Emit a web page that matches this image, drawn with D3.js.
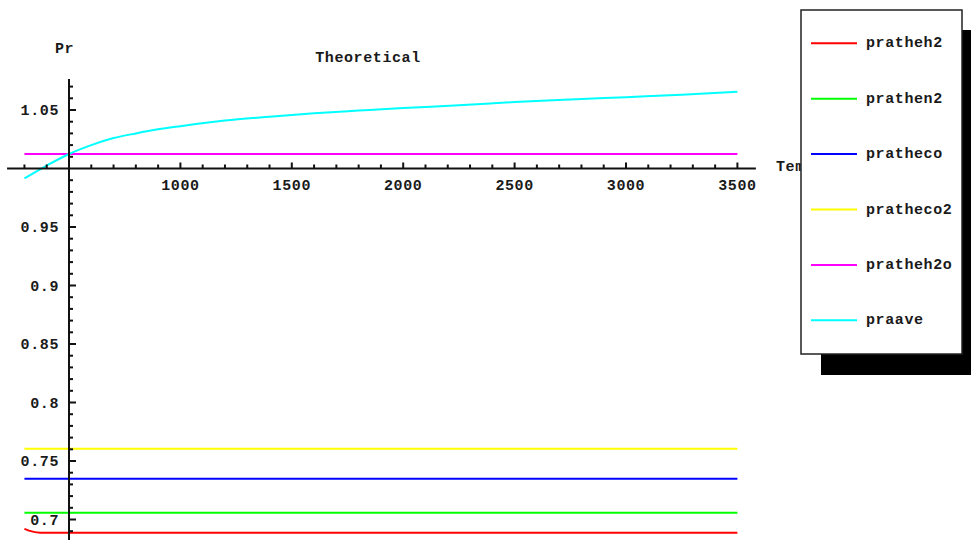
<!DOCTYPE html>
<html>
<head>
<meta charset="utf-8">
<script src="https://cdn.jsdelivr.net/npm/d3@7"></script>
<style>
  html, body { margin: 0; padding: 0; background: #fff; }
  svg { display: block; }
  text { font-family: "Liberation Mono", "DejaVu Sans Mono", monospace; font-weight: bold; fill: #1a1a1a; }
</style>
</head>
<body>
<svg id="chart" width="971" height="540"></svg>
<script>
// ---- data ----
const seriesNames = ["pratheh2", "prathen2", "pratheco", "pratheco2", "pratheh2o", "praave"];
const seriesColors = ["#ff0000", "#00ff00", "#0000ff", "#ffff00", "#ff00ff", "#00ffff"];

const pratheh2X = [300, 320, 370, 3500];
const pratheh2Y = [0.692, 0.6905, 0.6887, 0.6887];
const prathen2X = [300, 3500];
const prathen2Y = [0.7058, 0.7058];
const prathecoX = [300, 3500];
const prathecoY = [0.7349, 0.7349];
const pratheco2X = [300, 3500];
const pratheco2Y = [0.7605, 0.7605];
const pratheh2oX = [300, 3500];
const pratheh2oY = [1.0124, 1.0124];
const praaveX = [300, 400, 500, 600, 700, 800, 900, 1000, 1200, 1400, 1600, 1800, 2000, 2250, 2500, 2750, 3000, 3250, 3500];
const praaveY = [0.9915, 1.0025, 1.0124, 1.0200, 1.0260, 1.0300, 1.0335, 1.0362, 1.0410, 1.0443, 1.0472, 1.0495, 1.0517, 1.0540, 1.0568, 1.0590, 1.0610, 1.0630, 1.0655];

const xTickLabels = [1000, 1500, 2000, 2500, 3000, 3500];
const yTickLabels = [0.7, 0.75, 0.8, 0.85, 0.9, 0.95, 1.05];

const titleText = "Theoretical";
const yAxisLabel = "Pr";
const xAxisLabel = "Temperature";

// ---- layout ----
const svg = d3.select("#chart");
const origin = { x: 500, y: 1.0 };

const x = d3.scaleLinear().domain([0, 4000]).range([69 - 111.4, 69 + 7 * 111.4]);
const y = d3.scaleLinear().domain([0.65, 1.1]).range([168.5 + 0.35 * 1170, 168.5 - 0.10 * 1170]);

const fontSize = 15;
const ls = "0.6px";

const seriesX = [pratheh2X, prathen2X, prathecoX, pratheco2X, pratheh2oX, praaveX];
const seriesY = [pratheh2Y, prathen2Y, prathecoY, pratheco2Y, pratheh2oY, praaveY];

// ---- series ----
const line = d3.line().x(d => x(d[0])).y(d => y(d[1])).curve(d3.curveMonotoneX);
seriesNames.forEach((name, i) => {
  const pts = seriesX[i].map((v, k) => [v, seriesY[i][k]]);
  svg.append("path")
    .attr("d", line(pts))
    .attr("fill", "none")
    .attr("stroke", seriesColors[i])
    .attr("stroke-width", 2);
});

// ---- axes ----
const axisG = svg.append("g");
// x axis line
axisG.append("line")
  .attr("x1", x(222)).attr("x2", x(3583))
  .attr("y1", y(origin.y)).attr("y2", y(origin.y))
  .attr("stroke", "#111").attr("stroke-width", 2);
// y axis line
axisG.append("line")
  .attr("x1", x(origin.x)).attr("x2", x(origin.x))
  .attr("y1", y(1.0765)).attr("y2", y(0.66))
  .attr("stroke", "#111").attr("stroke-width", 2);

// x ticks (minor every 100, major at labels)
const xMinor = d3.range(300, 3501, 100).filter(v => v !== origin.x);
xMinor.forEach(v => {
  const major = v % 500 === 0;
  axisG.append("line")
    .attr("x1", x(v)).attr("x2", x(v))
    .attr("y1", y(origin.y)).attr("y2", y(origin.y) - (major ? 6 : 4))
    .attr("stroke", "#111").attr("stroke-width", 2);
});
xTickLabels.forEach(v => {
  axisG.append("text")
    .attr("x", x(v)).attr("y", y(origin.y) + 21)
    .attr("text-anchor", "middle")
    .attr("font-size", fontSize).attr("letter-spacing", ls)
    .text(v);
});

// y ticks (minor every 0.01)
const yMinor = d3.range(69, 108).map(v => v / 100).filter(v => Math.abs(v - 1) > 1e-9);
yMinor.forEach(v => {
  const major = Math.round(v * 100) % 5 === 0;
  axisG.append("line")
    .attr("x1", x(origin.x)).attr("x2", x(origin.x) + (major ? 7 : 4))
    .attr("y1", y(v)).attr("y2", y(v))
    .attr("stroke", "#111").attr("stroke-width", 2);
});
yTickLabels.forEach(v => {
  axisG.append("text")
    .attr("x", 59).attr("y", y(v) + 5)
    .attr("text-anchor", "end")
    .attr("font-size", fontSize).attr("letter-spacing", ls)
    .text(String(v));
});

// labels
svg.append("text").attr("x", 55).attr("y", 53)
  .attr("font-size", fontSize).attr("letter-spacing", ls).text(yAxisLabel);
svg.append("text").attr("x", 368).attr("y", 62).attr("text-anchor", "middle")
  .attr("font-size", fontSize).attr("letter-spacing", ls).text(titleText);
svg.append("text").attr("x", 776).attr("y", 171)
  .attr("font-size", fontSize).attr("letter-spacing", ls).text(xAxisLabel);

// ---- legend ----
const lg = svg.append("g");
lg.append("rect").attr("x", 821).attr("y", 30).attr("width", 170).attr("height", 345).attr("fill", "#000");
lg.append("rect").attr("x", 801).attr("y", 10).attr("width", 161).attr("height", 344)
  .attr("fill", "#fff").attr("stroke", "#222").attr("stroke-width", 1.5);
seriesNames.forEach((name, i) => {
  const ly = 43.3 + i * 55.4;
  lg.append("line").attr("x1", 811).attr("x2", 857).attr("y1", ly).attr("y2", ly)
    .attr("stroke", seriesColors[i]).attr("stroke-width", 2);
  lg.append("text").attr("x", 866).attr("y", ly + 4)
    .attr("font-size", fontSize).attr("letter-spacing", ls).text(name);
});
</script>
</body>
</html>
